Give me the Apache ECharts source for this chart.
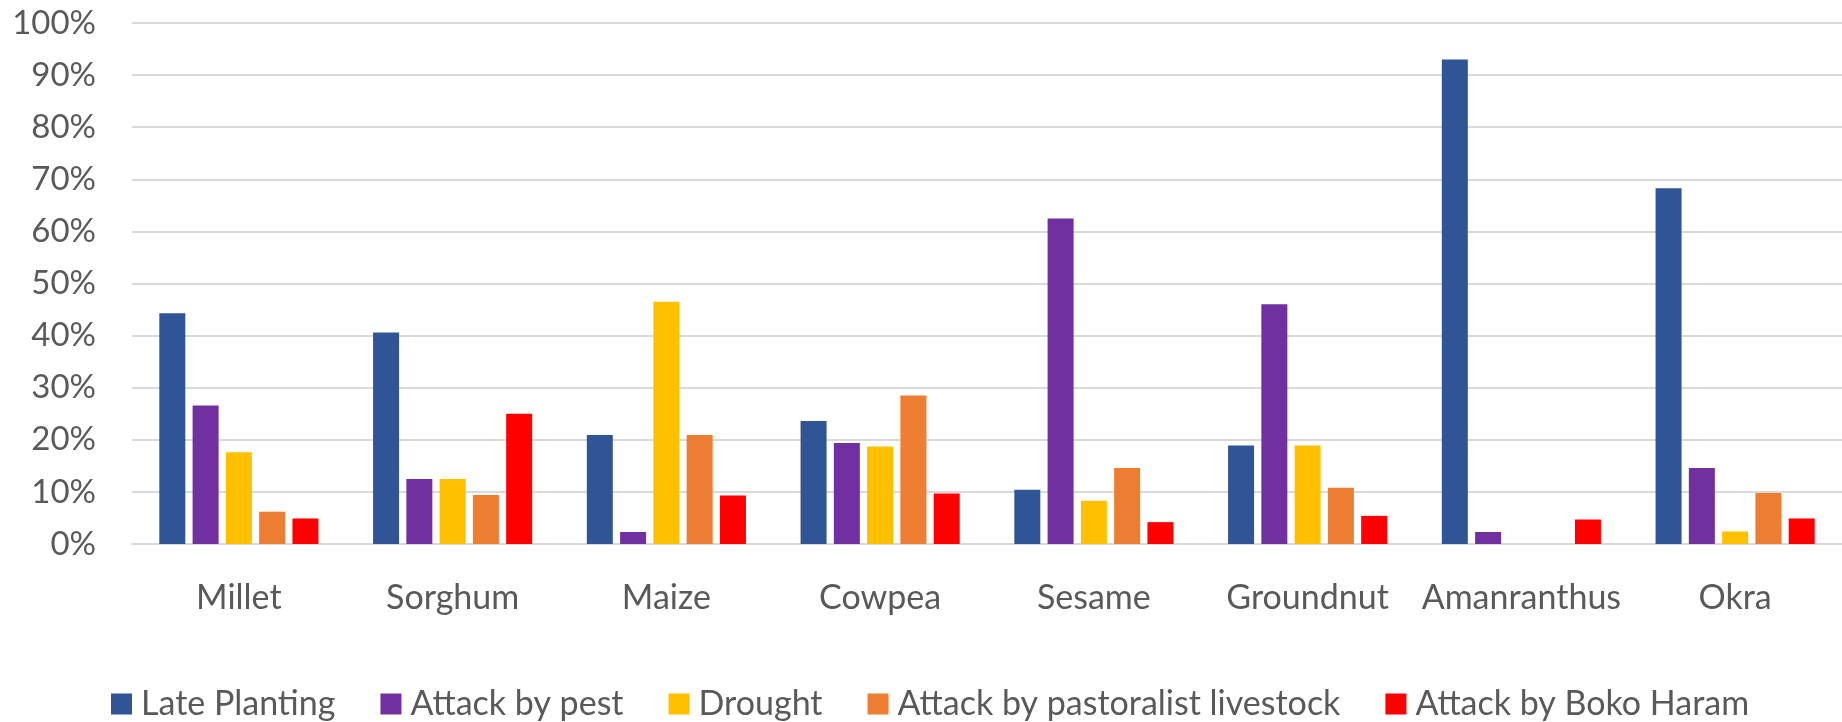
<!DOCTYPE html>
<html>
<head>
<meta charset="utf-8">
<title>Crop constraints</title>
<script src="https://cdn.jsdelivr.net/npm/echarts@6/dist/echarts.min.js"></script>
<style>
  html, body { margin: 0; padding: 0; background: #ffffff; }
  #chart { width: 1842px; height: 722px; }
</style>
</head>
<body>
<div id="chart"></div>
<script>
// Crops on the category axis
const crops = ['Millet', 'Sorghum', 'Maize', 'Cowpea', 'Sesame', 'Groundnut', 'Amanranthus', 'Okra'];

// Share of farmers reporting each constraint, in percent (one value per crop)
const latePlanting      = [44.3, 40.6, 20.9, 23.6, 10.4, 18.9, 93.0, 68.3];
const attackByPest      = [26.6, 12.5,  2.3, 19.4, 62.5, 46.0,  2.3, 14.6];
const drought           = [17.6, 12.5, 46.5, 18.7,  8.3, 18.9,  0.0,  2.4];
const pastoralLivestock = [ 6.2,  9.4, 20.9, 28.5, 14.6, 10.8,  0.0,  9.8];
const bokoHaram         = [ 4.9, 25.0,  9.3,  9.7,  4.2,  5.4,  4.7,  4.9];

// Value axis ticks
const percentTicks = { min: 0, max: 100, step: 10 };

const seriesDefs = [
  { name: 'Late Planting', data: latePlanting, color: '#2F5597' },
  { name: 'Attack by pest', data: attackByPest, color: '#7030A0' },
  { name: 'Drought', data: drought, color: '#FFC000' },
  { name: 'Attack by pastoralist livestock', data: pastoralLivestock, color: '#ED7D31' },
  { name: 'Attack by Boko Haram', data: bokoHaram, color: '#FF0000' }
];

const textFont = 'Lato, "Open Sans", "Liberation Sans", sans-serif';
const textColor = '#595959';

const chart = echarts.init(document.getElementById('chart'), null, { renderer: 'canvas' });

chart.setOption({
  animation: false,
  backgroundColor: '#ffffff',
  grid: {
    left: 132,
    top: 23,
    width: 1726,
    height: 521
  },
  legend: {
    left: 106,
    top: 682,
    itemWidth: 21,
    itemHeight: 21,
    itemGap: 45,
    icon: 'rect',
    textStyle: {
      fontFamily: textFont,
      fontSize: 34,
      color: textColor,
      padding: [0, 0, 0, 4]
    },
    data: seriesDefs.map(s => s.name)
  },
  xAxis: {
    type: 'category',
    data: crops,
    axisTick: { show: false },
    axisLine: { lineStyle: { color: '#d9d9d9', width: 2 } },
    axisLabel: {
      interval: 0,
      fontFamily: textFont,
      fontSize: 34,
      color: textColor,
      margin: 37
    }
  },
  yAxis: {
    type: 'value',
    min: percentTicks.min,
    max: percentTicks.max,
    interval: percentTicks.step,
    axisLine: { show: false },
    axisTick: { show: false },
    splitLine: { lineStyle: { color: '#d9d9d9', width: 2 } },
    axisLabel: {
      fontFamily: textFont,
      fontSize: 33,
      color: textColor,
      margin: 36,
      formatter: '{value}%'
    }
  },
  series: seriesDefs.map(s => ({
    name: s.name,
    type: 'bar',
    data: s.data,
    barWidth: 26,
    barGap: '28%',
    itemStyle: { color: s.color }
  }))
});
</script>
</body>
</html>
